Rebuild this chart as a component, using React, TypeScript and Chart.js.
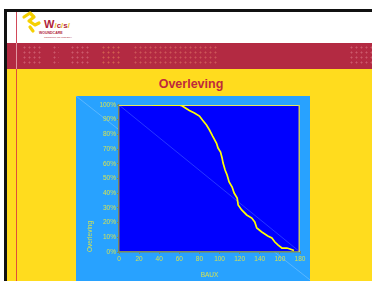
import React, { useEffect, useRef } from "react";
import { Chart, registerables } from "chart.js";

Chart.register(...registerables);

// Kaplan-Meier style survival
const bauxValues = [34, 60, 63, 66, 70, 75, 80, 83, 87, 90, 93, 97, 98.5, 101, 102.5, 103.5, 105.5, 107.5, 109.5, 112.5, 114.5, 117.5, 118.5, 122, 127, 132, 135, 137, 142, 148, 152, 155, 158, 162, 167, 170, 174];
const survivalValues = [100, 100, 99.3, 98, 96.3, 94.6, 92.5, 89.8, 86.4, 83, 79, 74, 70.7, 68, 64, 60.5, 55.8, 52.4, 47.6, 44.2, 40.1, 36.7, 32, 28.6, 25.2, 23.1, 20.4, 16.3, 13.6, 10.9, 9.5, 6.8, 4.8, 2.7, 2.7, 2.0, 1.0];
const xTicks = [0, 20, 40, 60, 80, 100, 120, 140, 160, 180];
const yTicks = [0, 10, 20, 30, 40, 50, 60, 70, 80, 90, 100];

const chartTitle = "Overleving";
const xTitle = "BAUX";
const yTitle = "Overleving";

const FONT = "'Liberation Sans', Arial, sans-serif";
const TICK_COLOR = "#d2e254";
const AXIS_COLOR = "#7c8a5c";

export default function App() {
  const ref = useRef<HTMLCanvasElement>(null);

  useEffect(() => {
    const canvas = ref.current!;
    const plotDecor = {
      id: "plotDecor",
      beforeDraw(chart: any) {
        const { ctx, chartArea: a, width } = chart;
        ctx.save();
        ctx.strokeStyle = "rgba(190,225,255,0.55)";
        ctx.lineWidth = 0.6;
        ctx.beginPath();
        ctx.moveTo(0, 0);
        ctx.lineTo(width, width * 0.786);
        ctx.stroke();
        ctx.fillStyle = "#0000ff";
        ctx.fillRect(a.left, a.top, a.right - a.left, a.bottom - a.top);
        ctx.strokeStyle = "rgba(110,150,255,0.6)";
        ctx.beginPath();
        ctx.moveTo(a.left, a.top);
        ctx.lineTo(a.right, a.bottom);
        ctx.stroke();
        ctx.restore();
      },
      beforeDatasetsDraw(chart: any) {
        const { ctx, chartArea: a } = chart;
        ctx.save();
        ctx.strokeStyle = "#e6e660";
        ctx.lineWidth = 1;
        ctx.beginPath();
        ctx.moveTo(a.left, a.top + 0.5);
        ctx.lineTo(a.right, a.top + 0.5);
        ctx.stroke();
        ctx.strokeStyle = "#c8c864";
        ctx.lineWidth = 1.5;
        ctx.beginPath();
        ctx.moveTo(a.right - 0.75, a.top);
        ctx.lineTo(a.right - 0.75, a.bottom);
        ctx.stroke();
        ctx.restore();
      },
    };

    const chart = new Chart(canvas, {
      type: "line",
      data: {
        datasets: [
          {
            data: bauxValues.map((x, i) => ({ x, y: survivalValues[i] })),
            borderColor: "#ffff00",
            borderWidth: 1.7,
            pointRadius: 0,
            tension: 0,
            fill: false,
          },
        ],
      },
      options: {
        responsive: false,
        animation: false,
        devicePixelRatio: 1,
        layout: { padding: { top: 9, right: 10, left: 0, bottom: 0 } },
        plugins: { legend: { display: false }, tooltip: { enabled: false } },
        scales: {
          x: {
            type: "linear",
            min: 0,
            max: 180,
            afterFit: (s: any) => {
              s.height = 29;
            },
            afterBuildTicks: (s: any) => {
              s.ticks = xTicks.map((v) => ({ value: v }));
            },
            ticks: {
              color: TICK_COLOR,
              font: { family: FONT, size: 6.5 },
              padding: 1,
              maxRotation: 0,
              autoSkip: false,
            },
            grid: { drawOnChartArea: false, tickLength: 2, color: AXIS_COLOR },
            border: { color: AXIS_COLOR, width: 1.5 },
            title: {
              display: true,
              text: xTitle,
              color: TICK_COLOR,
              font: { family: FONT, size: 6.5 },
              padding: { top: 0, bottom: 2 },
            },
          },
          y: {
            type: "linear",
            min: 0,
            max: 100,
            afterFit: (s: any) => {
              s.width = 43;
            },
            afterBuildTicks: (s: any) => {
              s.ticks = yTicks.map((v) => ({ value: v }));
            },
            ticks: {
              color: TICK_COLOR,
              font: { family: FONT, size: 6.5 },
              padding: 1,
              autoSkip: false,
              callback: (v: any) => v + "%",
            },
            grid: { drawOnChartArea: false, tickLength: 2, color: AXIS_COLOR },
            border: { color: AXIS_COLOR, width: 1.5 },
            title: {
              display: true,
              text: yTitle,
              align: "start",
              color: TICK_COLOR,
              font: { family: FONT, size: 6.5 },
              padding: { top: 10, bottom: 0 },
            },
          },
        },
      },
      plugins: [plotDecor],
    } as any);
    return () => chart.destroy();
  }, []);

  const abs = (s: React.CSSProperties): React.CSSProperties => ({ position: "absolute", ...s });
  const dots = (left: number, width: number, color: string) => (
    <div
      style={abs({
        left,
        top: 46,
        width,
        height: 20,
        backgroundImage: `radial-gradient(circle at 1.5px 1.5px, ${color} 0.8px, transparent 1.2px)`,
        backgroundSize: "5px 5px",
      })}
    />
  );

  return (
    <div
      style={{
        position: "fixed",
        left: 0,
        top: 0,
        width: 372,
        height: 281,
        overflow: "hidden",
        background: "#ffffff",
        fontFamily: FONT,
      }}
    >
      <div style={abs({ left: 4, top: 9, right: 0, height: 3, background: "#111" })} />
      <div style={abs({ left: 4, top: 9, bottom: 0, width: 3, background: "#111" })} />
      <div style={abs({ left: 7, top: 43, right: 0, height: 26, background: "#b32a42" })} />
      <div style={abs({ left: 7, top: 69, right: 0, bottom: 0, background: "#ffdc1e" })} />
      {dots(23, 20, "rgba(230,140,150,0.5)")}
      {dots(53, 6, "rgba(230,140,150,0.5)")}
      {dots(71, 19, "rgba(230,140,150,0.5)")}
      {dots(102, 20, "rgba(235,140,90,0.55)")}
      {dots(134, 85, "rgba(230,130,110,0.5)")}
      {dots(350, 22, "rgba(230,140,150,0.5)")}
      <div style={abs({ left: 16, top: 12, height: 31, width: 1, background: "#d24a5a" })} />
      <div style={abs({ left: 16, top: 43, height: 26, width: 1, background: "rgba(255,225,225,0.6)" })} />
      <div style={abs({ left: 16, top: 69, bottom: 0, width: 1, background: "#e0503a" })} />
      <svg style={abs({ left: 0, top: 0 })} width={80} height={42}>
        <path
          d="M24,17 L30,13 L34,17 L29,21 L35,25 L39,23 M30,27 L33,31"
          fill="none"
          stroke="#f5d000"
          strokeWidth={3.2}
          strokeLinejoin="round"
          strokeLinecap="round"
        />
      </svg>
      <div style={abs({ left: 44, top: 18, fontSize: 11, fontWeight: "bold", color: "#b0243a", lineHeight: "12px", whiteSpace: "nowrap" })}>
        W<span style={{ color: "#f0c020", fontSize: 8 }}>/</span>
        <span style={{ fontSize: 8 }}>c</span>
        <span style={{ color: "#f0c020", fontSize: 8 }}>/</span>
        <span style={{ fontSize: 8 }}>s</span>
        <span style={{ color: "#f0c020", fontSize: 8 }}>/</span>
      </div>
      <div style={abs({ left: 39, top: 31, fontSize: 3.5, fontWeight: "bold", color: "#b0243a", whiteSpace: "nowrap", lineHeight: "4px" })}>
        WOUNDCARE
      </div>
      <div style={abs({ left: 44, top: 36, fontSize: 2.5, color: "#b0243a", whiteSpace: "nowrap", lineHeight: "3px" })}>
        CONSULTANT SOCIETY
      </div>
      <div
        style={abs({
          left: 91,
          width: 200,
          top: 76,
          textAlign: "center",
          fontSize: 12.5,
          fontWeight: "bold",
          color: "#be2a3c",
          lineHeight: "16px",
        })}
      >
        {chartTitle}
      </div>
      <canvas
        ref={ref}
        width={234}
        height={185}
        style={abs({ left: 76, top: 96, width: 234, height: 185, background: "#28a2ff", display: "block" })}
      />
    </div>
  );
}
